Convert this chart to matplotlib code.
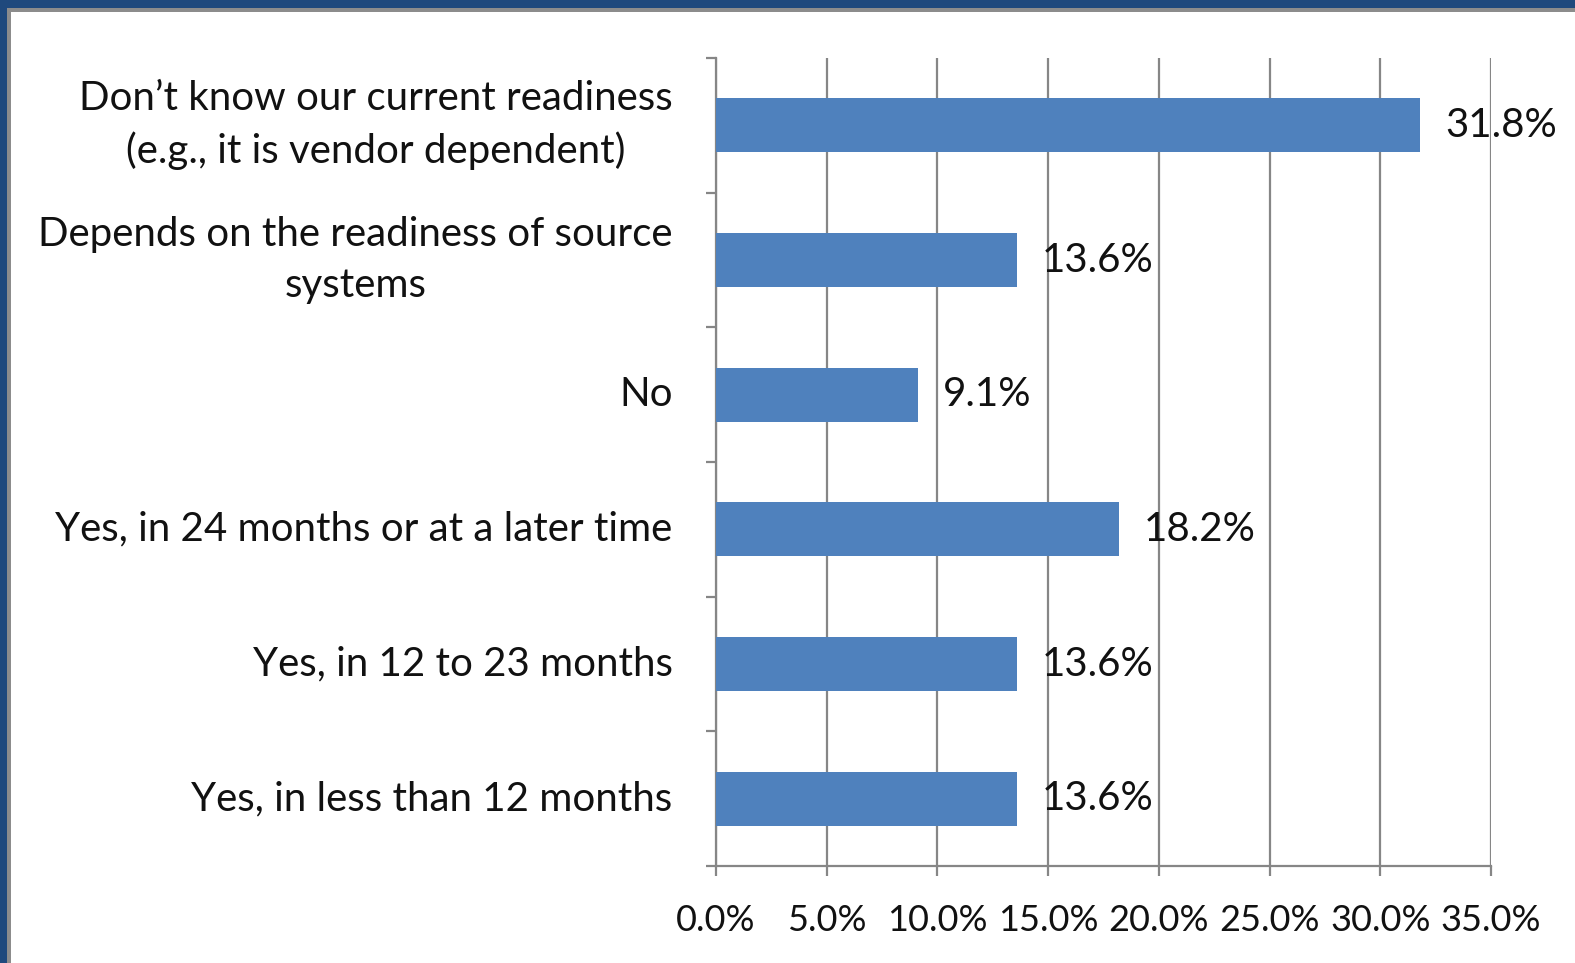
import matplotlib
matplotlib.use("Agg")
import matplotlib.pyplot as plt
from matplotlib.patches import Rectangle
from matplotlib.ticker import FuncFormatter, MultipleLocator

# Survey responses, bottom to top as drawn
categories = [
    "Yes, in less than 12 months",
    "Yes, in 12 to 23 months",
    "Yes, in 24 months or at a later time",
    "No",
    "Depends on the readiness of source\nsystems",
    "Don\u2019t know our current readiness\n(e.g., it is vendor dependent)",
]
shares = [13.6, 13.6, 18.2, 9.1, 13.6, 31.8]

BAR_COLOR = "#4F81BD"
GRID_COLOR = "#868686"
FRAME_COLOR = "#1F497D"
TEXT_COLOR = "#111111"

plt.rcParams["font.family"] = ["Lato", "DejaVu Sans"]

fig = plt.figure(figsize=(15.75, 9.63), dpi=100, facecolor="white")
W, H = 1575, 963

# dark blue frame on the top and left edge, with a thin grey inner rim
fig.patches.append(Rectangle((0, 1 - 12 / H), 1, 12 / H, transform=fig.transFigure,
                             facecolor="#8c8c8c", edgecolor="none", zorder=1))
fig.patches.append(Rectangle((0, 0), 11 / W, 1, transform=fig.transFigure,
                             facecolor="#8c8c8c", edgecolor="none", zorder=1))
fig.patches.append(Rectangle((0, 1 - 8 / H), 1, 8 / H, transform=fig.transFigure,
                             facecolor=FRAME_COLOR, edgecolor="none", zorder=2))
fig.patches.append(Rectangle((0, 0), 7 / W, 1, transform=fig.transFigure,
                             facecolor=FRAME_COLOR, edgecolor="none", zorder=2))

x0, x1 = 716, 1491
y_top, y_bot = 58, 866
ax = fig.add_axes([x0 / W, 1 - y_bot / H, (x1 - x0) / W, (y_bot - y_top) / H])

pos = range(len(categories))
ax.barh(pos, shares, height=0.4, color=BAR_COLOR, zorder=3)

for p, v in zip(pos, shares):
    ax.annotate(f"{v:.1f}%", (v, p), xytext=(18, 0), textcoords="offset points",
                ha="left", va="center", fontsize=29, color=TEXT_COLOR, zorder=4)

ax.set_xlim(0, 35)
ax.set_ylim(-0.5, len(categories) - 0.5)
ax.xaxis.set_major_locator(MultipleLocator(5))
ax.xaxis.set_major_formatter(FuncFormatter(lambda v, _: f"{v:.1f}%"))
ax.grid(axis="x", color=GRID_COLOR, linewidth=1.6, zorder=1)
ax.set_axisbelow(True)

# category ticks sit on the boundaries between bars
ax.set_yticks([p - 0.5 for p in range(len(categories) + 1)])
ax.set_yticklabels([])
ax.tick_params(axis="y", length=7, width=1.6, color=GRID_COLOR)
ax.tick_params(axis="x", length=7, width=1.6, color=GRID_COLOR,
               labelsize=26, labelcolor=TEXT_COLOR, pad=20)

for p, name in zip(pos, categories):
    ax.text(-0.056, p, name, transform=ax.get_yaxis_transform(),
            ha="right", va="center", multialignment="center",
            fontsize=29, color=TEXT_COLOR, linespacing=1.45)

for side in ("top", "right"):
    ax.spines[side].set_visible(False)
for side in ("left", "bottom"):
    ax.spines[side].set_color(GRID_COLOR)
    ax.spines[side].set_linewidth(1.6)

fig.savefig("out.png", dpi=100)
